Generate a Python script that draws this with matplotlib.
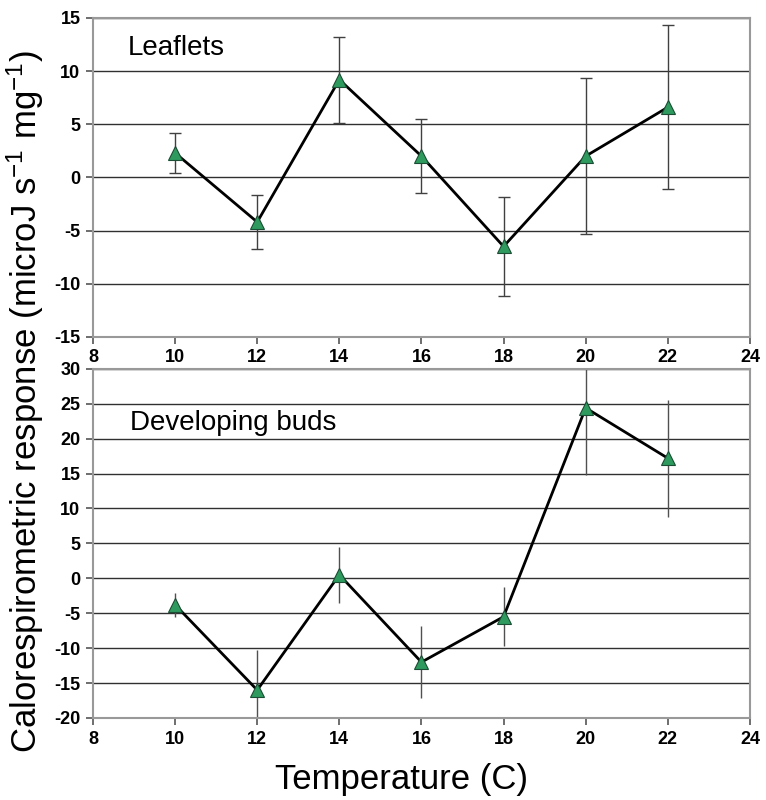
import numpy as np
import matplotlib
matplotlib.use("Agg")
import matplotlib.pyplot as plt

# Data
# -----------------------------------------------------------------------------
temps = [10, 12, 14, 16, 18, 20, 22]

leaflets = [2.3, -4.2, 9.2, 2.0, -6.5, 2.0, 6.6]
leaflets_err = [1.9, 2.55, 4.05, 3.5, 4.7, 7.35, 7.7]

buds = [-3.8, -16.0, 0.5, -12.0, -5.5, 24.4, 17.2]
buds_err = [1.7, 5.7, 4.0, 5.2, 4.2, 9.6, 8.4]

xticks = [8, 10, 12, 14, 16, 18, 20, 22, 24]
yticks_top = [-15, -10, -5, 0, 5, 10, 15]
yticks_bottom = [-20, -15, -10, -5, 0, 5, 10, 15, 20, 25, 30]

font = ["Liberation Sans", "DejaVu Sans"]
plt.rcParams['font.family'] = font
plt.rcParams['axes.unicode_minus'] = False
plt.rcParams['mathtext.default'] = 'regular'

marker_color = "#2e9a5e"


def style_axes(ax, yticks):
    ax.set_xlim(8, 24)
    ax.set_ylim(yticks[0], yticks[-1])
    ax.set_xticks(xticks)
    ax.set_yticks(yticks)
    ax.yaxis.grid(True, color="#303030", linewidth=1.0)
    ax.set_axisbelow(True)
    for side in ax.spines.values():
        side.set_color("#999999")
        side.set_linewidth(1.5)
    ax.tick_params(axis="both", direction="out", length=5, width=1.2,
                   color="#555555", labelsize=13, pad=4)
    for lab in ax.get_xticklabels() + ax.get_yticklabels():
        lab.set_fontweight("bold")


fig = plt.figure(figsize=(7.66, 8.0), dpi=100)
ax1 = fig.add_axes([0.1214, 0.579, 0.8576, 0.3985])
ax2 = fig.add_axes([0.1214, 0.1025, 0.8576, 0.4365])

# Top panel: leaflets
ax1.errorbar(temps, leaflets, yerr=leaflets_err, fmt="none",
             ecolor="#404040", elinewidth=1.0, capsize=4, capthick=1.0)
ax1.plot(temps, leaflets, color="black", linewidth=2,
         marker="^", markersize=10, markerfacecolor=marker_color,
         markeredgecolor="#1a4d33", markeredgewidth=0.8)
style_axes(ax1, yticks_top)
ax1.text(8.85, 12.2, "Leaflets", fontsize=20, va="center", ha="left")

# Bottom panel: developing buds
ax2.errorbar(temps, buds, yerr=buds_err, fmt="none",
             ecolor="#505050", elinewidth=1.0, capsize=0)
ax2.plot(temps, buds, color="black", linewidth=2,
         marker="^", markersize=10, markerfacecolor=marker_color,
         markeredgecolor="#1a4d33", markeredgewidth=0.8)
style_axes(ax2, yticks_bottom)
ax2.text(8.9, 22.3, "Developing buds", fontsize=20, va="center", ha="left")

fig.text(0.033, 0.4975, "Calorespirometric response (microJ s$^{-1}$ mg$^{-1}$)",
         rotation=90, fontsize=25, ha="center", va="center")
fig.text(0.5235, 0.025, "Temperature (C)", fontsize=25, ha="center", va="center")

fig.savefig("out.png", dpi=100)
